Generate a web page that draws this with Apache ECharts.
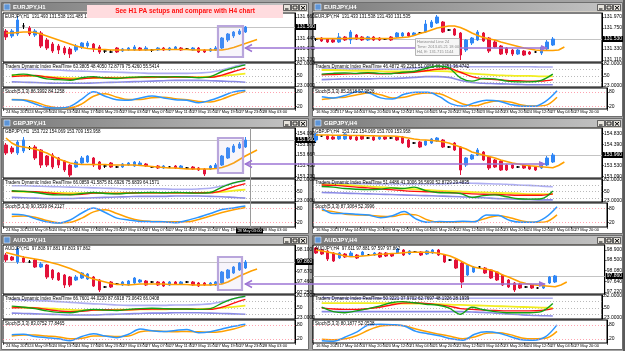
<!DOCTYPE html>
<html><head><meta charset="utf-8">
<script src="https://cdn.jsdelivr.net/npm/echarts@6/dist/echarts.min.js"></script>
<style>html,body{margin:0;padding:0;background:#a3a3a3;overflow:hidden}#c{width:625px;height:351px}</style>
</head><body><div id="c"></div><script>
// ===================== DATA =====================
// candles: [open, close, low, high]
const eurH1Candles = [
[131.52,131.46,131.43,131.54],[131.47,131.52,131.45,131.54],[131.49,131.63,131.47,131.67],[131.57,131.57,131.54,131.60],
[131.55,131.49,131.47,131.57],[131.48,131.52,131.46,131.54],[131.50,131.37,131.35,131.52],[131.43,131.35,131.33,131.45],
[131.39,131.32,131.30,131.41],[131.37,131.33,131.29,131.39],[131.35,131.30,131.28,131.37],[131.34,131.29,131.25,131.36],
[131.33,131.37,131.31,131.39],[131.36,131.40,131.34,131.41],[131.37,131.40,131.35,131.42],[131.39,131.34,131.31,131.40],
[131.36,131.31,131.29,131.38],[131.32,131.32,131.30,131.34],[131.31,131.31,131.30,131.33],[131.35,131.31,131.30,131.36],
[131.32,131.34,131.31,131.35],[131.33,131.35,131.32,131.36],[131.33,131.36,131.32,131.38],[131.35,131.33,131.32,131.36],
[131.33,131.35,131.32,131.37],[131.33,131.33,131.31,131.34],[131.33,131.35,131.32,131.36],[131.35,131.33,131.32,131.36],
[131.33,131.35,131.32,131.36],[131.34,131.36,131.33,131.37],[131.35,131.33,131.32,131.36],[131.34,131.34,131.33,131.35],
[131.33,131.35,131.32,131.36],[131.35,131.31,131.30,131.36],[131.33,131.31,131.30,131.34],[131.32,131.34,131.31,131.35],
[131.33,131.35,131.32,131.37],[131.35,131.45,131.34,131.46],[131.43,131.49,131.41,131.50],[131.47,131.51,131.45,131.52],
[131.49,131.52,131.48,131.54],[131.51,131.56,131.50,131.57]];
const eurH1MA = [131.50,131.50,131.505,131.51,131.51,131.505,131.49,131.47,131.45,131.43,131.41,131.39,131.37,131.355,131.345,131.34,
131.335,131.335,131.33,131.33,131.33,131.33,131.33,131.33,131.33,131.33,131.335,131.335,131.335,131.335,131.335,131.335,131.33,131.33,131.33,131.33,131.33,
131.33,131.34,131.355,131.375,131.395,131.415,131.435];
const eurH1PriceTicks = [131.66,131.55,131.44,131.34,131.23];
const eurH1TdiUpper  = [68,68,68,67,66,64,63,62,61,60,59,58,57,57,57,57,58,60,66,75,82];
const eurH1TdiLower  = [34,33,32,31,30,30,30,31,32,33,34,35,36,37,38,38,38,37,36,35,33];
const eurH1TdiBase   = [52,51,50,48,46,44,44,44,45,45,46,46,46,47,47,47,47,48,50,53,56];
const eurH1TdiRsi    = [52,55,50,42,40,38,45,48,44,43,46,47,48,47,48,47,45,48,62,72,80];
const eurH1TdiSignal = [48,50,51,47,43,41,42,45,45,44,45,46,47,47,47,47,46,46,52,62,71];
const eurH1StochK = [47,45,30,15,13,20,50,80,62,47,45,55,63,55,47,45,35,45,62,80,86];
const eurH1StochD = [48,47,38,22,14,14,30,62,72,58,48,48,56,58,52,47,40,38,50,68,82];

const eurH4Candles = [
[131.53,131.53,131.49,131.55],[131.55,131.49,131.47,131.57],[131.53,131.47,131.45,131.55],[131.51,131.47,131.45,131.53],
[131.47,131.57,131.45,131.65],[131.57,131.51,131.49,131.59],[131.51,131.67,131.43,131.71],[131.61,131.53,131.51,131.63],
[131.57,131.51,131.49,131.59],[131.51,131.57,131.49,131.59],[131.57,131.51,131.49,131.59],[131.55,131.51,131.49,131.57],
[131.53,131.53,131.51,131.55],[131.57,131.51,131.49,131.59],[131.57,131.65,131.55,131.67],[131.59,131.65,131.57,131.67],
[131.65,131.59,131.57,131.67],[131.61,131.65,131.59,131.67],[131.65,131.65,131.63,131.67],[131.67,131.83,131.65,131.91],
[131.77,131.87,131.75,131.91],[131.85,131.97,131.83,132.01],[131.87,131.67,131.65,131.89],[131.71,131.71,131.69,131.73],
[131.73,131.61,131.59,131.75],[131.65,131.21,131.11,131.67],[131.31,131.51,131.27,131.53],[131.45,131.55,131.41,131.57],
[131.51,131.67,131.49,131.71],[131.65,131.49,131.47,131.67],[131.55,131.29,131.25,131.57],[131.47,131.37,131.35,131.51],
[131.39,131.23,131.21,131.41],[131.35,131.25,131.21,131.37],[131.31,131.23,131.19,131.33],[131.23,131.31,131.21,131.33],
[131.29,131.21,131.19,131.31],[131.27,131.23,131.21,131.29],[131.27,131.27,131.25,131.29],[131.25,131.37,131.21,131.39],
[131.33,131.47,131.31,131.51],[131.41,131.53,131.39,131.57]];
const eurH4MA = [131.54,131.54,131.54,131.54,131.54,131.54,131.545,131.545,131.545,131.54,131.54,131.54,131.54,131.54,131.55,131.56,
131.57,131.60,131.64,131.67,131.71,131.75,131.77,131.79,131.79,131.76,131.71,131.65,131.60,131.56,131.53,131.51,131.47,131.44,
131.41,131.38,131.35,131.33,131.31,131.30,131.30,131.30,131.31,131.37];
const eurH4PriceTicks = [131.97,131.75,131.53,131.33,131.11];
const eurH4TdiUpper  = [70,70,69,69,68,68,68,69,71,74,76,77,76,75,75,75,75,75,75,74,74];
const eurH4TdiLower  = [40,41,42,42,42,43,43,44,46,48,48,46,38,32,30,29,28,27,26,26,26];
const eurH4TdiBase   = [66,66,65,64,64,63,62,62,62,63,63,62,60,56,54,52,51,50,50,49,49];
const eurH4TdiRsi    = [55,57,58,57,59,57,56,60,62,70,77,72,45,36,43,42,36,34,34,38,55];
const eurH4TdiSignal = [53,54,55,56,57,56,57,58,60,64,68,70,60,48,42,40,38,37,36,36,40];
const eurH4StochK = [60,55,65,80,75,55,50,70,78,78,60,30,20,35,45,42,28,20,20,40,85];
const eurH4StochD = [48,55,58,68,75,68,55,58,70,75,72,52,30,22,35,42,38,26,21,24,58];

const gbpH1Candles = [
[153.86,153.70,153.66,153.90],[153.80,153.72,153.68,153.84],[153.70,153.92,153.66,153.96],[153.74,153.96,153.70,154.02],
[153.80,153.80,153.76,153.84],[153.82,153.60,153.56,153.86],[153.76,153.46,153.40,153.78],[153.64,153.46,153.42,153.66],
[153.66,153.42,153.38,153.70],[153.60,153.46,153.40,153.62],[153.54,153.36,153.32,153.56],[153.46,153.26,153.22,153.48],
[153.42,153.52,153.40,153.56],[153.50,153.60,153.48,153.64],[153.52,153.64,153.50,153.66],[153.60,153.46,153.42,153.62],
[153.52,153.38,153.36,153.54],[153.44,153.44,153.40,153.46],[153.50,153.42,153.40,153.52],[153.42,153.42,153.40,153.44],
[153.42,153.48,153.40,153.50],[153.46,153.50,153.44,153.52],[153.44,153.52,153.42,153.54],[153.46,153.50,153.44,153.54],
[153.48,153.44,153.42,153.50],[153.42,153.42,153.40,153.44],[153.44,153.40,153.38,153.46],[153.40,153.44,153.38,153.46],
[153.42,153.42,153.40,153.44],[153.44,153.40,153.38,153.46],[153.40,153.44,153.38,153.46],[153.40,153.40,153.38,153.42],
[153.42,153.38,153.36,153.44],[153.40,153.36,153.34,153.42],[153.38,153.28,153.24,153.40],[153.38,153.44,153.36,153.46],
[153.40,153.46,153.38,153.50],[153.46,153.64,153.44,153.66],[153.60,153.80,153.58,153.82],[153.72,153.84,153.70,153.88],
[153.80,153.88,153.78,153.92],[153.82,153.96,153.80,154.02]];
const gbpH1MA = [154.00,153.90,153.84,153.82,153.80,153.78,153.74,153.70,153.64,153.58,153.54,153.50,153.48,153.47,153.47,153.47,
153.47,153.47,153.46,153.46,153.46,153.46,153.46,153.45,153.44,153.43,153.42,153.41,153.40,153.40,153.39,153.38,153.38,153.38,
153.38,153.38,153.39,153.41,153.45,153.50,153.57,153.64,153.70,153.76];
const gbpH1PriceTicks = [154.09,153.87,153.66,153.45,153.23];
const gbpH1TdiUpper  = [66,66,65,64,63,62,61,60,59,58,57,57,57,57,56,56,57,59,65,74,80];
const gbpH1TdiLower  = [33,32,31,30,30,30,31,32,33,34,35,36,36,36,37,37,37,36,35,33,31];
const gbpH1TdiBase   = [50,49,48,47,46,45,45,45,45,45,46,46,46,46,46,46,46,47,49,52,55];
const gbpH1TdiRsi    = [52,50,47,42,40,40,44,47,44,43,45,46,47,46,47,46,45,47,62,74,81];
const gbpH1TdiSignal = [50,50,49,46,43,41,42,45,45,44,45,46,46,46,46,46,46,46,52,63,72];
const gbpH1StochK = [55,52,36,22,17,30,60,82,62,38,30,24,23,22,18,28,42,58,75,82,90];
const gbpH1StochD = [45,47,42,28,18,20,38,65,74,58,40,28,24,23,22,22,32,47,62,74,84];

const gbpH4Candles = [
[154.56,154.80,154.48,154.84],[154.72,154.72,154.68,154.76],[154.72,154.60,154.56,154.76],[154.68,154.60,154.56,154.72],
[154.60,154.72,154.56,154.76],[154.60,154.80,154.56,154.84],[154.72,154.60,154.56,154.76],[154.68,154.56,154.52,154.72],
[154.72,154.60,154.56,154.76],[154.64,154.64,154.60,154.68],[154.68,154.56,154.52,154.72],[154.60,154.68,154.56,154.72],
[154.68,154.60,154.56,154.72],[154.64,154.64,154.60,154.68],[154.68,154.56,154.52,154.72],[154.68,154.44,154.40,154.72],
[154.56,154.28,154.24,154.60],[154.44,154.44,154.40,154.48],[154.48,154.28,154.24,154.52],[154.36,154.52,154.32,154.56],
[154.44,154.60,154.40,154.64],[154.52,154.64,154.48,154.68],[154.56,154.28,154.24,154.60],[154.28,154.28,154.24,154.32],
[154.44,154.16,154.12,154.48],[154.28,153.36,153.16,154.32],[153.56,153.84,153.48,153.88],[153.80,153.96,153.76,154.00],
[153.96,154.16,153.92,154.24],[154.08,153.76,153.72,154.12],[153.88,153.44,153.36,153.92],[153.76,153.48,153.44,153.80],
[153.72,153.36,153.32,153.76],[153.56,153.36,153.32,153.60],[153.56,153.44,153.40,153.60],[153.48,153.48,153.44,153.52],
[153.56,153.44,153.40,153.60],[153.52,153.40,153.36,153.56],[153.48,153.36,153.32,153.52],[153.44,153.64,153.40,153.68],
[153.56,153.84,153.52,153.92],[153.68,153.96,153.64,154.04]];
const gbpH4MA = [154.76,154.76,154.76,154.75,154.75,154.75,154.74,154.74,154.74,154.73,154.73,154.72,154.72,154.72,154.71,154.68,
154.64,154.60,154.57,154.56,154.54,154.52,154.49,154.44,154.36,154.28,154.20,154.08,154.02,153.96,153.90,153.84,153.76,153.70,
153.64,153.60,153.56,153.53,153.51,153.49,153.47,153.45,153.54,153.68];
const gbpH4PriceTicks = [154.83,154.39,153.96,153.53,153.09];
const gbpH4TdiUpper  = [73,73,72,72,72,71,71,71,71,71,71,72,74,73,72,71,70,68,67,65,63];
const gbpH4TdiLower  = [47,46,45,44,43,42,41,40,39,38,37,36,35,33,32,30,29,28,27,26,26];
const gbpH4TdiBase   = [70,69,68,66,64,62,60,58,56,54,52,51,50,48,47,46,45,44,42,42,42];
const gbpH4TdiRsi    = [64,62,58,56,55,56,60,58,62,52,47,46,44,33,38,40,35,29,28,29,51];
const gbpH4TdiSignal = [68,67,65,62,60,57,55,52,50,49,48,47,45,43,42,41,40,39,39,39,43];
const gbpH4StochK = [80,58,58,55,51,40,48,66,35,20,24,22,25,22,52,50,28,20,20,40,87];
const gbpH4StochD = [72,66,55,52,50,46,45,55,52,30,20,20,22,24,38,48,40,26,20,22,52];

const audH1Candles = [
[98.00,97.90,97.86,98.04],[97.96,97.90,97.88,97.98],[97.86,98.12,97.82,98.16],[97.94,97.86,97.84,97.98],
[97.86,97.86,97.84,97.90],[97.90,97.76,97.74,97.92],[97.76,97.82,97.74,97.86],[97.80,97.56,97.52,97.82],
[97.70,97.54,97.50,97.72],[97.64,97.50,97.48,97.66],[97.60,97.40,97.34,97.62],[97.56,97.40,97.36,97.58],
[97.50,97.56,97.48,97.60],[97.54,97.64,97.52,97.66],[97.52,97.62,97.50,97.64],[97.56,97.38,97.36,97.58],
[97.50,97.30,97.26,97.52],[97.36,97.36,97.34,97.38],[97.46,97.36,97.34,97.48],[97.42,97.42,97.40,97.44],
[97.40,97.46,97.38,97.48],[97.40,97.48,97.38,97.50],[97.44,97.54,97.42,97.56],[97.46,97.50,97.44,97.52],
[97.48,97.40,97.38,97.50],[97.46,97.46,97.44,97.48],[97.46,97.40,97.38,97.48],[97.46,97.38,97.36,97.48],
[97.40,97.46,97.38,97.48],[97.46,97.42,97.40,97.48],[97.42,97.46,97.40,97.48],[97.46,97.46,97.44,97.48],
[97.46,97.40,97.38,97.48],[97.44,97.38,97.36,97.46],[97.44,97.40,97.38,97.46],[97.40,97.44,97.38,97.46],
[97.40,97.46,97.38,97.48],[97.44,97.66,97.42,97.68],[97.54,97.70,97.52,97.72],[97.64,97.76,97.62,97.78],
[97.70,97.84,97.68,97.86],[97.74,97.86,97.72,97.90]];
const audH1MA = [98.05,98.02,97.99,97.96,97.94,97.92,97.90,97.87,97.84,97.81,97.77,97.73,97.68,97.62,97.56,97.52,97.49,97.46,97.43,97.41,
97.41,97.40,97.41,97.42,97.42,97.42,97.42,97.42,97.41,97.41,97.41,97.41,97.40,97.40,97.40,97.40,97.41,
97.42,97.46,97.52,97.58,97.63,97.68,97.72];
const audH1PriceTicks = [98.10,97.88,97.67,97.46,97.25];
const audH1TdiUpper  = [72,71,70,69,67,65,63,61,60,58,57,57,57,57,58,58,59,61,67,75,81];
const audH1TdiLower  = [36,35,34,33,32,31,31,31,32,33,34,35,36,36,37,37,37,36,35,34,33];
const audH1TdiBase   = [52,51,50,49,47,45,44,44,44,45,45,46,46,46,47,47,47,48,50,53,56];
const audH1TdiRsi    = [55,52,48,42,38,37,42,46,44,43,46,48,49,48,47,47,46,48,63,75,82];
const audH1TdiSignal = [50,51,50,46,42,40,41,44,45,44,45,46,47,47,47,47,46,46,52,63,73];
const audH1StochK = [38,40,30,25,20,12,30,42,32,25,40,62,55,51,56,60,46,50,62,74,83];
const audH1StochD = [32,36,36,32,28,20,22,32,32,30,32,50,55,52,50,52,50,48,52,62,78];

const audH4Candles = [
[98.98,98.78,98.74,99.02],[98.90,98.74,98.70,98.94],[98.86,98.54,98.46,98.90],[98.78,98.46,98.42,98.82],
[98.58,98.78,98.54,98.82],[98.74,98.62,98.58,98.78],[98.66,98.78,98.62,98.86],[98.70,98.58,98.54,98.74],
[98.70,98.82,98.66,98.86],[98.70,98.70,98.66,98.74],[98.70,98.78,98.66,98.82],[98.78,98.62,98.58,98.82],
[98.78,98.66,98.62,98.82],[98.74,98.66,98.62,98.78],[98.78,98.94,98.74,98.98],[98.90,98.70,98.66,98.94],
[98.74,98.86,98.70,98.90],[98.82,98.82,98.78,98.86],[98.82,98.70,98.66,98.86],[98.74,98.86,98.70,98.90],
[98.78,98.90,98.74,98.94],[98.90,98.70,98.66,98.94],[98.70,98.42,98.38,98.74],[98.50,98.50,98.46,98.54],
[98.50,98.18,98.14,98.54],[98.38,97.62,97.38,98.42],[97.90,98.30,97.86,98.34],[98.02,98.22,97.98,98.26],
[98.22,98.22,98.18,98.26],[98.18,97.98,97.94,98.22],[98.10,97.78,97.74,98.14],[98.02,97.70,97.66,98.06],
[97.90,97.50,97.46,97.94],[97.70,97.42,97.38,97.74],[97.58,97.30,97.22,97.62],[97.54,97.38,97.34,97.58],
[97.42,97.42,97.38,97.46],[97.50,97.38,97.34,97.54],[97.38,97.38,97.34,97.42],[97.38,97.50,97.34,97.54],
[97.58,97.82,97.54,97.86],[97.62,97.86,97.58,97.90]];
const audH4MA = [98.90,98.86,98.82,98.77,98.72,98.66,98.63,98.64,98.66,98.68,98.71,98.73,98.74,98.76,98.77,98.79,98.81,98.81,98.81,98.81,
98.80,98.77,98.72,98.66,98.56,98.44,98.32,98.22,98.17,98.14,98.10,98.02,97.90,97.82,97.72,97.62,97.56,97.52,97.49,97.47,
97.45,97.43,97.50,97.62];
const audH4PriceTicks = [98.90,98.50,98.08,97.64,97.22];
const audH4TdiUpper  = [78,77,76,76,76,76,76,76,76,76,76,76,76,76,76,76,76,76,76,76,76];
const audH4TdiLower  = [40,40,40,40,40,40,40,40,40,40,40,40,40,39,38,36,34,32,30,29,28];
const audH4TdiBase   = [63,63,63,63,63,63,63,62,62,61,60,59,58,57,56,55,54,53,52,51,50];
const audH4TdiRsi    = [52,40,37,42,48,55,64,67,64,60,58,50,33,52,45,40,37,37,37,40,62];
const audH4TdiSignal = [50,47,46,46,48,52,58,63,64,62,59,55,48,46,44,43,42,42,42,43,48];
const audH4StochK = [12,10,28,50,80,83,81,75,52,42,33,20,14,40,50,45,30,16,14,28,80];
const audH4StochD = [18,16,20,34,58,75,78,76,62,50,40,30,20,28,44,46,38,24,20,22,52];

// shared
const indIdx = [1,3,5,7,9,11,13,15,17,19,21,23,25,27,29,31,33,35,37,39,41]; // bar slot of each indicator sample
const tdiLevels = [68,50,32];
const tdiTicks = [82,50,23];
const stochLevels = [80,20];
const stochTicks = [80,20];
const h1Dates = ['24 May 2013','24 May 09:00','24 May 13:00','24 May 17:00','26 May 23:00','27 May 03:00','27 May 07:00','27 May 11:00','27 May 15:00','27 May 19:00','27 May 23:00','28 May 03:00'];
const h4Dates = ['16 May 2013','17 May 04:00','17 May 20:00','20 May 12:00','21 May 04:00','21 May 20:00','22 May 12:00','23 May 04:00','23 May 20:00','24 May 12:00','27 May 04:00','27 May 20:00'];
const bannerText = 'See H1 PA setups and compare with H4 chart';

// ===================== LAYOUT =====================
const FONT = '"Liberation Sans", Arial, sans-serif';
const SLOTS = 50;
const slots = Array.from({length: SLOTS}, (_, i) => 's' + i);
const DATA = {
  eurH1:{c:eurH1Candles, ma:eurH1MA, ticks:eurH1PriceTicks, up:eurH1TdiUpper, lo:eurH1TdiLower, base:eurH1TdiBase, rsi:eurH1TdiRsi, sig:eurH1TdiSignal, k:eurH1StochK, d:eurH1StochD},
  eurH4:{c:eurH4Candles, ma:eurH4MA, ticks:eurH4PriceTicks, up:eurH4TdiUpper, lo:eurH4TdiLower, base:eurH4TdiBase, rsi:eurH4TdiRsi, sig:eurH4TdiSignal, k:eurH4StochK, d:eurH4StochD},
  gbpH1:{c:gbpH1Candles, ma:gbpH1MA, ticks:gbpH1PriceTicks, up:gbpH1TdiUpper, lo:gbpH1TdiLower, base:gbpH1TdiBase, rsi:gbpH1TdiRsi, sig:gbpH1TdiSignal, k:gbpH1StochK, d:gbpH1StochD},
  gbpH4:{c:gbpH4Candles, ma:gbpH4MA, ticks:gbpH4PriceTicks, up:gbpH4TdiUpper, lo:gbpH4TdiLower, base:gbpH4TdiBase, rsi:gbpH4TdiRsi, sig:gbpH4TdiSignal, k:gbpH4StochK, d:gbpH4StochD},
  audH1:{c:audH1Candles, ma:audH1MA, ticks:audH1PriceTicks, up:audH1TdiUpper, lo:audH1TdiLower, base:audH1TdiBase, rsi:audH1TdiRsi, sig:audH1TdiSignal, k:audH1StochK, d:audH1StochD},
  audH4:{c:audH4Candles, ma:audH4MA, ticks:audH4PriceTicks, up:audH4TdiUpper, lo:audH4TdiLower, base:audH4TdiBase, rsi:audH4TdiRsi, sig:audH4TdiSignal, k:audH4StochK, d:audH4StochD}
};
const WIN = [
 {id:'eurH1', title:'EURJPY,H1', x:1,   y:2,   w:308, h:115, left:3,   width:292, main:[13,49],  tdi:[63,24],  sto:[88,21],  pr:[131.21,131.70], sr:[9,96],  dec:3, dates:h1Dates,
  head:['EURJPY,H1  131.493 131.538 131.485 131.535','Traders Dynamic Index RealTime 63.3805 48.4050 72.8779 75.4260 55.5414','Stoch(5,3,3) 86.3992 84.1258']},
 {id:'eurH4', title:'EURJPY,H4', x:312, y:2,   w:311, h:115, left:313, width:294, main:[13,49],  tdi:[63,24],  sto:[88,21],  pr:[131.07,132.05], sr:[9,96],  dec:3, dates:h4Dates,
  head:['EURJPY,H4  131.433 131.538 131.430 131.535','Traders Dynamic Index RealTime 46.4872 49.2261 51.0055 66.2751 36.4742','Stoch(5,3,3) 85.2618 57.9826']},
 {id:'gbpH1', title:'GBPJPY,H1', x:1,   y:118, w:308, h:116, left:3,   width:292, main:[128,50], tdi:[179,23], sto:[203,24], pr:[153.20,154.20], sr:[0,103], dec:3, dates:h1Dates,
  head:['GBPJPY,H1  153.722 154.069 153.709 153.958','Traders Dynamic Index RealTime 66.0859 41.5875 81.6926 75.6839 64.1571','Stoch(5,3,3) 90.3539 84.2127']},
 {id:'gbpH4', title:'GBPJPY,H4', x:312, y:118, w:311, h:116, left:313, width:294, main:[128,50], tdi:[179,23], sto:[203,24], pr:[153.04,155.04], sr:[0,103], dec:3, dates:h4Dates,
  head:['GBPJPY,H4  153.722 154.069 153.709 153.958','Traders Dynamic Index RealTime 51.4486 41.3006 36.5690 52.8729 29.4835','Stoch(5,3,3) 87.3064 52.3996']},
 {id:'audH1', title:'AUDJPY,H1', x:1,   y:235, w:308, h:115, left:3,   width:292, main:[245,49], tdi:[295,24], sto:[320,23], pr:[97.22,98.20],   sr:[2,101], dec:3, dates:h1Dates,
  head:['AUDJPY,H1  97.808 97.881 97.803 97.862','Traders Dynamic Index RealTime 66.7601 44.0230 87.6918 73.0643 66.0408','Stoch(5,3,3) 83.0752 77.8465']},
 {id:'audH4', title:'AUDJPY,H4', x:312, y:235, w:311, h:115, left:313, width:294, main:[245,49], tdi:[295,24], sto:[320,23], pr:[97.14,99.10],   sr:[2,101], dec:3, dates:h4Dates,
  head:['AUDJPY,H4  97.611 97.881 97.597 97.862','Traders Dynamic Index RealTime 50.3221 37.9702 62.7697 48.1326 28.1939','Stoch(5,3,3) 80.1877 52.0538']}
];

const BULL = '#2f86f6', BEAR = '#e3123a';
const grids = [], xAxes = [], yAxes = [], series = [], gfx = [];
const pairs = arr => indIdx.map((s, j) => [s, arr[j]]);
const txt = (x, y, text, font, fill, align, z, vAlign) => ({type:'text', x, y, silent:true, z: z || 5,
  style:{text, font, fill, textAlign: align || 'left', align: align || 'left', textVerticalAlign: vAlign || 'middle', verticalAlign: vAlign || 'middle'}});

WIN.forEach(w => {
  const d = DATA[w.id];
  const gi = grids.length;
  [w.main, w.tdi, w.sto].forEach(([top, height]) => grids.push({left:w.left, top, width:w.width, height,
    show:true, borderColor:'#000', borderWidth:1, backgroundColor:'rgba(0,0,0,0)'}));
  for (let k = 0; k < 3; k++) {
    const isSto = k === 2;
    xAxes.push({type:'category', gridIndex:gi + k, data:slots, boundaryGap:true,
      axisLine:{show:false}, splitLine:{show:false},
      axisTick: isSto ? {show:true, length:2, interval:(i) => i % 4 === 0 && i / 4 < w.dates.length, lineStyle:{color:'#000', width:0.6}} : {show:false},
      axisLabel: isSto ? {show:true, interval:0, fontSize:4, fontFamily:FONT, color:'#000', margin:1, align:'left',
        formatter:(v, i) => (i % 4 === 0 ? (w.dates[i / 4] || '') : '')} : {show:false}});
  }
  const yBase = {type:'value', position:'right', splitLine:{show:false},
    axisLine:{show:true, lineStyle:{color:'#000', width:1}}};
  yAxes.push(Object.assign({}, yBase, {gridIndex:gi, min:w.pr[0], max:w.pr[1], scale:true,
    axisTick:{show:true, length:2, customValues:d.ticks, lineStyle:{color:'#000', width:0.6}},
    axisLabel:{customValues:d.ticks, fontSize:5, fontFamily:FONT, color:'#000', margin:2, formatter:v => v.toFixed(w.dec)}}));
  yAxes.push(Object.assign({}, yBase, {gridIndex:gi + 1, min:20, max:85,
    axisTick:{show:true, length:2, customValues:tdiTicks, lineStyle:{color:'#000', width:0.6}},
    axisLabel:{customValues:tdiTicks, fontSize:5, fontFamily:FONT, color:'#000', margin:2, formatter:v => (v === 50 ? '50' : v.toFixed(4))}}));
  yAxes.push(Object.assign({}, yBase, {gridIndex:gi + 2, min:w.sr[0], max:w.sr[1],
    axisTick:{show:true, length:2, customValues:stochTicks, lineStyle:{color:'#000', width:0.6}},
    axisLabel:{customValues:stochTicks, fontSize:5, fontFamily:FONT, color:'#000', margin:2}}));

  const lastClose = d.c[d.c.length - 1][1];
  series.push({type:'candlestick', xAxisIndex:gi, yAxisIndex:gi, data:d.c, barWidth:3, z:3,
    itemStyle:{color:BULL, color0:BEAR, borderColor:BULL, borderColor0:BEAR, borderColorDoji:'#000', borderWidth:1},
    markLine:{symbol:'none', silent:true, animation:false, z:1,
      lineStyle:{color:'#c4c4c4', width:1, type:'solid'},
      label:{show:true, position:'end', distance:1, backgroundColor:'#000', color:'#fff', fontSize:5, fontFamily:FONT,
        padding:[1,1,0,1], formatter:p => Number(p.value).toFixed(w.dec)},
      data:[{yAxis:lastClose}]}});
  series.push({type:'line', xAxisIndex:gi, yAxisIndex:gi, data:d.ma, showSymbol:false, z:4,
    lineStyle:{color:'#ffa000', width:1.6}});

  const tdiStyle = [[d.up, '#aeaef2', 1.6], [d.lo, '#8a8ae6', 1.6], [d.base, '#f2ee20', 1.8], [d.sig, '#ff1010', 1.4], [d.rsi, '#13a013', 1.4]];
  tdiStyle.forEach(([arr, col, lw], j) => {
    const s = {type:'line', xAxisIndex:gi + 1, yAxisIndex:gi + 1, data:pairs(arr), showSymbol:false, smooth:0.35,
      lineStyle:{color:col, width:lw}, z:3 + j};
    if (j === 0) s.markLine = {symbol:'none', silent:true, animation:false, label:{show:false},
      lineStyle:{color:'#a8a8a8', width:0.8, type:[1,2]}, data:tdiLevels.map(v => ({yAxis:v}))};
    series.push(s);
  });
  [[d.d, '#ffa000'], [d.k, '#2b95ff']].forEach(([arr, col], j) => {
    const s = {type:'line', xAxisIndex:gi + 2, yAxisIndex:gi + 2, data:pairs(arr), showSymbol:false, smooth:0.35,
      lineStyle:{color:col, width:1.5}, z:3 + j};
    if (j === 0) s.markLine = {symbol:'none', silent:true, animation:false, label:{show:false},
      lineStyle:{color:'#ff8a9a', width:0.8, type:[1,2]}, data:stochLevels.map(v => ({yAxis:v}))};
    series.push(s);
  });

  // window chrome
  gfx.push({type:'rect', silent:true, z:-30, shape:{x:w.x + 0.5, y:w.y + 0.5, width:w.w - 1, height:w.h - 1}, style:{fill:'#d4d0c8', stroke:'#6e6e6e', lineWidth:1}});
  gfx.push({type:'rect', silent:true, z:-29, shape:{x:w.x + 1, y:w.y + 1, width:w.w - 2, height:8},
    style:{fill:new echarts.graphic.LinearGradient(0, 0, 1, 0, [{offset:0, color:'#7a7a7a'}, {offset:1, color:'#c6c6c6'}])}});
  gfx.push({type:'rect', silent:true, z:-28, shape:{x:w.x + 3, y:w.y + 2, width:6, height:6}, style:{fill:'#5d95d8', stroke:'#e8eef8', lineWidth:0.6}});
  gfx.push(txt(w.x + 12, w.y + 5.2, w.title, 'bold 6px ' + FONT, '#ffffff', 'left', -27));
  for (let b = 0; b < 3; b++) {
    const bx = w.x + w.w - 26 + b * 8, by = w.y + 2;
    gfx.push({type:'rect', silent:true, z:-27, shape:{x:bx + 0.5, y:by + 0.5, width:7, height:6}, style:{fill:'#e6e3dc', stroke:'#303030', lineWidth:0.7}});
    if (b === 0) gfx.push({type:'line', silent:true, z:-26, shape:{x1:bx + 2, y1:by + 5, x2:bx + 5.5, y2:by + 5}, style:{stroke:'#000', lineWidth:1}});
    if (b === 1) gfx.push({type:'rect', silent:true, z:-26, shape:{x:bx + 2, y:by + 2, width:4, height:3}, style:{fill:'none', stroke:'#000', lineWidth:0.8}});
    if (b === 2) {
      gfx.push({type:'line', silent:true, z:-26, shape:{x1:bx + 2, y1:by + 2, x2:bx + 6, y2:by + 5.5}, style:{stroke:'#000', lineWidth:1}});
      gfx.push({type:'line', silent:true, z:-26, shape:{x1:bx + 6, y1:by + 2, x2:bx + 2, y2:by + 5.5}, style:{stroke:'#000', lineWidth:1}});
    }
  }
  gfx.push({type:'rect', silent:true, z:-25, shape:{x:w.x + 1, y:w.y + 10, width:w.w - 2, height:w.h - 11}, style:{fill:'#ffffff'}});
  gfx.push(txt(w.left + 2, w.main[0] + 3.5, w.head[0], '4.5px ' + FONT, '#000', 'left', 6));
  gfx.push(txt(w.left + 2, w.tdi[0] + 3.5, w.head[1], '4.5px ' + FONT, '#000', 'left', 6));
  gfx.push(txt(w.left + 2, w.sto[0] + 3.5, w.head[2], '4.5px ' + FONT, '#000', 'left', 6));
});

// right edge shadow
gfx.push({type:'rect', silent:true, z:-31, shape:{x:623, y:0, width:2, height:351}, style:{fill:'#5a5a5a'}});

// ============ annotations ============
gfx.push({type:'rect', silent:true, z:60, shape:{x:87, y:5, width:196, height:13}, style:{fill:'#ffdcdf'}});
gfx.push(txt(185, 11.5, bannerText, 'bold 6.5px ' + FONT, '#ff1010', 'center', 61));

[[218, 26, 25, 31], [218, 138, 25, 35], [218, 257, 24, 33]].forEach(([x, y, ww, hh]) => {
  gfx.push({type:'rect', silent:true, z:55, shape:{x, y, width:ww, height:hh}, style:{fill:'rgba(190,170,225,0.12)', stroke:'#b9a6dc', lineWidth:2.2}});
});
[[48, 247], [164, 245], [284, 245]].forEach(([y, xr]) => {
  gfx.push({type:'line', silent:true, z:56, shape:{x1:245, y1:y, x2:xr + 300, y2:y}, style:{stroke:'#9d74d4', lineWidth:1.5}});
  gfx.push({type:'polyline', silent:true, z:56, shape:{points:[[252, y - 3.5], [245.5, y], [252, y + 3.5]]}, style:{stroke:'#9d74d4', lineWidth:1.5, fill:'none'}});
  gfx.push({type:'polygon', silent:true, z:56, shape:{points:[[xr + 294, y - 3], [xr + 301, y], [xr + 294, y + 3]]}, style:{fill:'#9d74d4'}});
});

// tooltip box in EURJPY,H4
gfx.push({type:'rect', silent:true, z:57, shape:{x:415.5, y:38.5, width:44, height:17}, style:{fill:'#f6f6f6', stroke:'#b4b4b4', lineWidth:1}});
gfx.push(txt(417, 42, 'Horizontal Line 24', '4px ' + FONT, '#8a8a8a', 'left', 58));
gfx.push(txt(417, 47, 'Time: 2013.05.21 18:00', '4px ' + FONT, '#8a8a8a', 'left', 58));
gfx.push(txt(417, 52, 'H4, E: 131.715 1144', '4px ' + FONT, '#8a8a8a', 'left', 58));

// crosshair in GBPJPY,H1
gfx.push({type:'line', silent:true, z:20, shape:{x1:250.5, y1:128, x2:250.5, y2:228}, style:{stroke:'#9a9a9a', lineWidth:1}});
gfx.push({type:'rect', silent:true, z:21, shape:{x:236, y:228.5, width:27, height:5}, style:{fill:'#000'}});
gfx.push(txt(249.5, 231.2, '28 May 03:00', '4px ' + FONT, '#fff', 'center', 22));

const chart = echarts.init(document.getElementById('c'), null, {renderer:'canvas', width:625, height:351});
chart.setOption({
  animation:false,
  backgroundColor:'transparent',
  grid:grids, xAxis:xAxes, yAxis:yAxes, series,
  graphic:{elements:gfx}
});
</script></body></html>
